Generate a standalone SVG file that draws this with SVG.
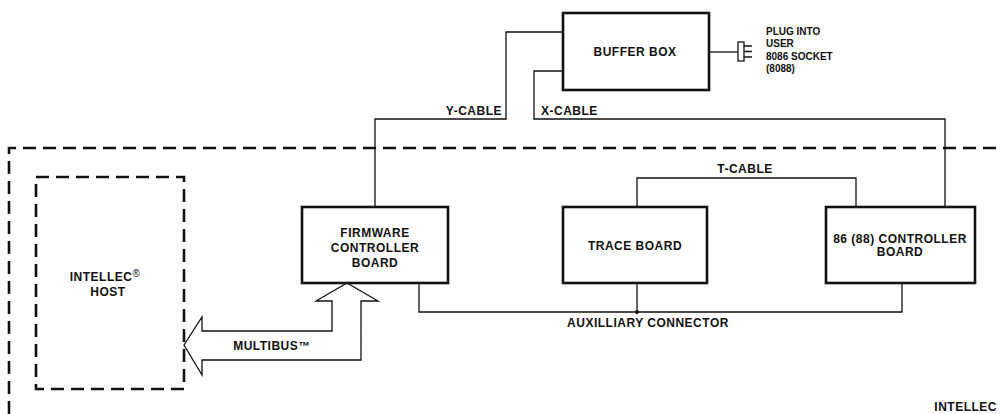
<svg xmlns="http://www.w3.org/2000/svg" width="1000" height="414" viewBox="0 0 1000 414">
<style>
.box{fill:#fff;stroke:#111;stroke-width:2.6}
.dash{fill:none;stroke:#111;stroke-width:2.6;stroke-dasharray:13 7}
.wire{fill:none;stroke:#111;stroke-width:1.3}
.t{font-family:"Liberation Sans",Arial,sans-serif;font-weight:bold;font-size:12px;letter-spacing:0.5px;fill:#111}
.s{font-family:"Liberation Sans",Arial,sans-serif;font-weight:bold;font-size:10px;fill:#111}
</style>
<rect width="1000" height="414" fill="#fff"/>
<g id="boundary">
<path class="dash" d="M9,414 V148 H1000"/>
<text class="t" x="997" y="411" text-anchor="end">INTELLEC</text>
</g>
<g id="connectors">
<path class="wire" d="M375,207 V119 H506 V32 H563"/>
<path class="wire" d="M563,71 H534 V119 H945 V207"/>
<path class="wire" d="M637,207 V178 H856 V207"/>
<path class="wire" d="M419,283 V312 H902 V283"/>
<path class="wire" d="M637,283 V312"/>
<circle cx="637" cy="312" r="2" fill="#111"/>
<path class="wire" d="M709,52 H738"/>
<text class="t" x="502" y="115" text-anchor="end">Y-CABLE</text>
<text class="t" x="541" y="115">X-CABLE</text>
<text class="t" x="745" y="173" text-anchor="middle">T-CABLE</text>
<text class="t" x="648" y="327" text-anchor="middle">AUXILLIARY CONNECTOR</text>
</g>
<g id="multibus">
<polygon fill="#fff" stroke="#111" stroke-width="1.3" stroke-linejoin="miter" points="184,345 202,317 202,331 332,331 332,301 316,301 347,283 378,301 361,301 361,360 202,360 202,375"/>
<text class="t" x="272" y="350" text-anchor="middle">MULTIBUS™</text>
</g>
<g id="host">
<rect class="dash" x="36" y="177" width="148" height="212"/>
<text class="t" x="105" y="281" text-anchor="middle">INTELLEC<tspan font-size="10" font-weight="normal" dy="-4">®</tspan></text>
<text class="t" x="108" y="296" text-anchor="middle">HOST</text>
</g>
<g id="firmware">
<rect class="box" x="302" y="207" width="146" height="76"/>
<text class="t" x="375" y="237" text-anchor="middle">FIRMWARE</text>
<text class="t" x="375" y="252" text-anchor="middle">CONTROLLER</text>
<text class="t" x="375" y="267" text-anchor="middle">BOARD</text>
</g>
<g id="trace">
<rect class="box" x="563" y="207" width="144" height="76"/>
<text class="t" x="635" y="250" text-anchor="middle">TRACE BOARD</text>
</g>
<g id="controller86">
<rect class="box" x="826" y="207" width="149" height="76"/>
<text class="t" x="900" y="243" text-anchor="middle">86 (88) CONTROLLER</text>
<text class="t" x="900" y="256" text-anchor="middle">BOARD</text>
</g>
<g id="buffer">
<rect class="box" x="563" y="13" width="146" height="77"/>
<text class="t" x="635" y="56" text-anchor="middle">BUFFER BOX</text>
</g>
<g id="plug">
<rect x="738" y="42" width="6" height="19" fill="#fff" stroke="#111" stroke-width="1.3"/>
<path class="wire" d="M744,46 H752 M744,51.5 H752 M744,57 H752"/>
<text class="s" x="766" y="35">PLUG INTO</text>
<text class="s" x="766" y="47">USER</text>
<text class="s" x="766" y="60">8086 SOCKET</text>
<text class="s" x="766" y="72">(8088)</text>
</g>
</svg>
